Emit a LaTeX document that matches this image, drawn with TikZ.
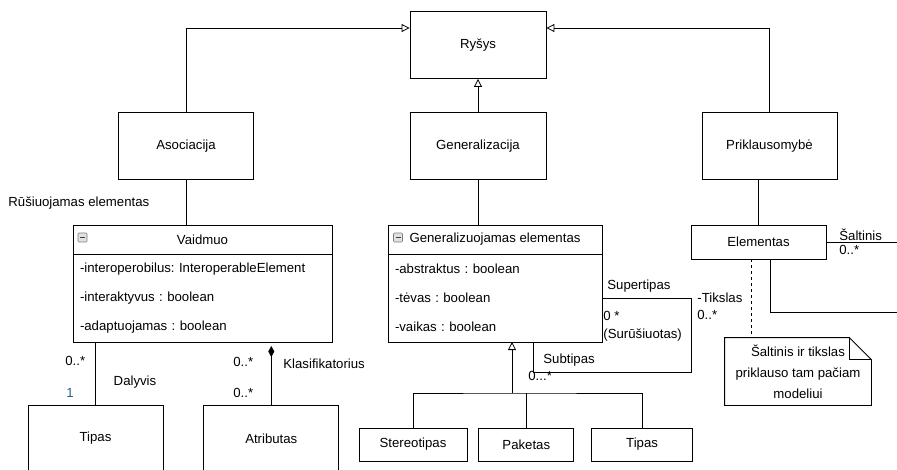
\documentclass[tikz,border=0pt]{standalone}
\usepackage{fontspec}
\setmainfont{Liberation Sans}
\usetikzlibrary{positioning, calc, arrows.meta}
\frenchspacing

\definecolor{multcol}{RGB}{31,100,130}
\definecolor{iconfill}{RGB}{225,225,225}
\definecolor{icondraw}{RGB}{125,125,125}

\begin{document}
\begin{tikzpicture}[x=1pt, y=-1pt, line width=0.8pt,
    font=\fontsize{13.2}{15}\selectfont,
    umlbox/.style={draw, minimum width=135pt, minimum height=67pt, inner sep=0pt},
    smallbox/.style={draw, minimum height=33pt, inner sep=0pt},
    classhead/.style={draw, minimum height=29pt, inner sep=0pt, outer sep=0pt},
    classbody/.style={draw, minimum height=88pt, inner xsep=7pt, inner ysep=0pt,
      outer sep=0pt, align=left, font=\fontsize{13.2}{29}\selectfont},
    minusicon/.style={draw=icondraw, fill=iconfill, rounded corners=1pt,
      minimum size=9pt, inner sep=0pt, line width=0.6pt,
      path picture={\draw[line width=1.2pt, black!75]
        ([xshift=2pt]path picture bounding box.west) --
        ([xshift=-2pt]path picture bounding box.east);}},
    lbl/.style={inner sep=0pt, anchor=west},
    inherit/.style={-{Triangle[open, length=8pt, width=8pt]}}]
  \useasboundingbox (0,0) rectangle (897,469);

  \node[umlbox, minimum width=136pt] (rysys) at (478,45) {Ryšys};
  \node[umlbox] (asociacija) at (186,146) {Asociacija};
  \node[umlbox, minimum width=136pt] (generalizacija) at (478,146) {Generalizacija};
  \node[umlbox] (priklausomybe) at (769.5,146) {Priklausomybė};

  \draw[inherit] (asociacija.north) |- ([yshift=17pt]rysys.west);
  \draw[inherit] (priklausomybe.north) |- ([yshift=17pt]rysys.east);
  \draw[inherit] (generalizacija.north) -- (rysys.south);

  % Vaidmuo klase
  \node[classhead, minimum width=259pt] (vaidmuo) at (202.5,239.5) {Vaidmuo};
  \node[classbody, text width=245pt, below=0pt of vaidmuo] (vaidmuo-attr)
    {-interoperobilus: InteroperableElement\\ -interaktyvus : boolean\\
     -adaptuojamas : boolean};
  \node[minusicon] (vaidmuo-icon) at ([xshift=9.5pt, yshift=2pt]vaidmuo.west) {};
  \node[lbl] (rusiuojamas) at (8,203) {Rūšiuojamas elementas};
  \draw (asociacija.south) -- (asociacija.south |- vaidmuo.north);

  \node[umlbox] (tipas-a) at (95.5,438.5) {Tipas};
  \node[umlbox, right=40pt of tipas-a] (atributas) {Atributas};
  \draw (tipas-a.north) -- (tipas-a.north |- vaidmuo-attr.south);
  \draw[-{Diamond[length=11pt, width=6pt]}] (atributas.north) --
    ($(atributas.north |- vaidmuo-attr.south)+(0,4)$);

  \node[lbl] (dalyvis-mult) at (65,361) {0..*};
  \node[lbl, text=multcol] (dalyvis-one) at (66,393) {1};
  \node[inner sep=0pt] (dalyvis) at (135,382) {Dalyvis};
  \node[lbl] (klas-mult-a) at (233,362) {0..*};
  \node[lbl] (klas-mult-b) at (233,393) {0..*};
  \node[lbl] (klasifikatorius) at (283,364) {Klasifikatorius};

  % Generalizuojamas elementas
  \node[classhead, minimum width=214pt] (genelem) at (495,239.5)
    {Generalizuojamas elementas};
  \node[classbody, text width=200pt, below=0pt of genelem] (genelem-attr)
    {-abstraktus : boolean\\ -tėvas : boolean\\ -vaikas : boolean};
  \node[minusicon] (genelem-icon) at ([xshift=10pt, yshift=2pt]genelem.west) {};
  \draw (generalizacija.south) -- (generalizacija.south |- genelem.north);

  \draw (genelem-attr.east) -- ++(89,0) |- ($(genelem-attr.south)+(38,30)$)
    -- ($(genelem-attr.south)+(38,0)$);
  \node[lbl] (supertipas) at (607,286) {Supertipas};
  \node[lbl] (super-mult) at (603,316) {0 *};
  \node[lbl] (surusiuotas) at (603,335) {(Surūšiuotas)};
  \node[lbl] (subtipas) at (543,360) {Subtipas};
  \node[lbl] (sub-mult) at (528,376) {0...*};

  \node[smallbox, minimum width=108pt] (stereotipas) at (413,444.5) {Stereotipas};
  \node[smallbox, minimum width=95pt, right=11pt of stereotipas] (paketas) {Paketas};
  \node[smallbox, minimum width=101pt, right=17pt of paketas] (tipas-b) {Tipas};
  \coordinate (gen-split) at (512,393);
  \draw[inherit] (gen-split) -- (gen-split |- genelem-attr.south);
  \draw (stereotipas.north) |- (gen-split) -| (tipas-b.north);
  \draw (paketas.north) -- (paketas.north |- gen-split);

  % Elementas
  \node[smallbox, minimum width=135pt, minimum height=34pt] (elementas)
    at (758.5,242) {Elementas};
  \draw (elementas.north) -- (elementas.north |- priklausomybe.south);
  \coordinate (saltinis-end) at (897,242);
  \coordinate (tikslas-end) at (897,312);
  \draw (elementas.east) -- (saltinis-end);
  \draw ($(elementas.south)+(11.5,0)$) |- (tikslas-end);
  \node[lbl] (saltinis) at (839,235) {Šaltinis};
  \node[lbl] (saltinis-mult) at (839,250) {0..*};
  \node[lbl] (tikslas) at (697,298) {-Tikslas};
  \node[lbl] (tikslas-mult) at (697,315) {0..*};

  \node[minimum width=146pt, minimum height=67pt, inner sep=0pt, align=center,
    font=\fontsize{13.2}{21}\selectfont] (note) at (798,371.5)
    {Šaltinis ir tikslas\\ priklauso tam pačiam\\ modeliui};
  \draw (note.north west) -- ($(note.north east)+(-22,0)$)
    -- ($(note.north east)+(0,22)$) -- (note.south east)
    -- (note.south west) -- cycle;
  \draw ($(note.north east)+(-22,0)$) -- ++(0,22) -- ($(note.north east)+(0,22)$);
  \coordinate (note-link) at ($(elementas.south)+(-7.5,0)$);
  \draw[line width=0.8pt, dash pattern=on 3pt off 3pt]
    (note-link) -- (note-link |- note.north);
\end{tikzpicture}
\end{document}
